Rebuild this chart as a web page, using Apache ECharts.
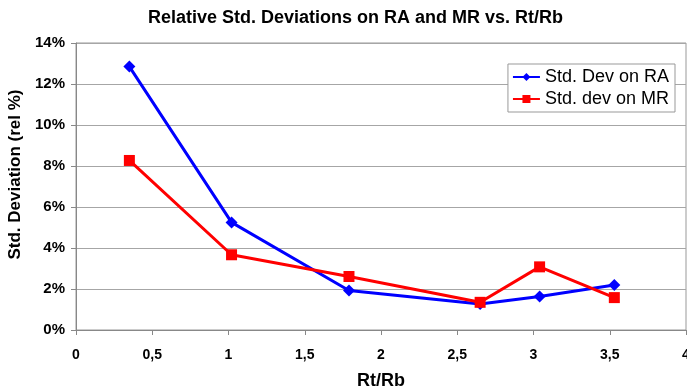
<!DOCTYPE html>
<html>
<head>
    <meta charset="utf-8">
    <title>ECharts</title>
    <script src="https://cdn.jsdelivr.net/npm/echarts@6/dist/echarts.min.js"></script>
</head>
<body style="margin:0">
    <div id="main" style="width: 687px;height:387px;"></div>
    <script type="text/javascript">
        var myChart = echarts.init(document.getElementById('main'));

        // Rt/Rb values (x) and relative std. deviations in %
        var rtRb = [0.35, 1.02, 1.79, 2.65, 3.04, 3.53];
        var devRA = [12.85, 5.25, 1.93, 1.27, 1.63, 2.2];
        var devMR = [8.27, 3.67, 2.61, 1.35, 3.08, 1.58];

        function pairs(ys) {
            return rtRb.map(function (x, i) { return [x, ys[i]]; });
        }

        var font = 'Liberation Sans, Arial, sans-serif';

        option = {
            backgroundColor: '#fff',
            animation: false,
            title: {
                text: 'Relative Std. Deviations on RA and MR vs. Rt/Rb',
                left: 143,
                top: 4,
                textStyle: { fontFamily: font, fontSize: 18, fontWeight: 'bold', color: '#000' }
            },
            legend: {
                orient: 'vertical',
                right: 12,
                top: 64,
                padding: [4, 6, 4, 4],
                itemGap: 4,
                itemWidth: 27,
                itemHeight: 10,
                backgroundColor: '#fff',
                borderColor: '#999',
                borderWidth: 1,
                borderRadius: 0,
                textStyle: { fontFamily: font, fontSize: 18, color: '#000' },
                data: ['Std. Dev on RA', 'Std. dev on MR']
            },
            grid: {
                left: 76,
                right: 1,
                top: 43,
                bottom: 57,
                outerBoundsMode: 'none',
                show: true,
                borderColor: '#999',
                borderWidth: 1
            },
            xAxis: {
                type: 'value',
                min: 0,
                max: 4,
                interval: 0.5,
                name: 'Rt/Rb',
                nameLocation: 'middle',
                nameGap: 42,
                nameTextStyle: { fontFamily: font, fontSize: 18, fontWeight: 'bold', color: '#000' },
                axisLine: { lineStyle: { color: '#888' } },
                axisTick: { show: true, length: 5, lineStyle: { color: '#888' } },
                axisLabel: {
                    fontFamily: font, fontSize: 14, fontWeight: 'bold', color: '#000', margin: 18,
                    formatter: function (v) { return String(v).replace('.', ','); }
                },
                splitLine: { show: false }
            },
            yAxis: {
                type: 'value',
                min: 0,
                max: 14,
                interval: 2,
                name: 'Std. Deviation (rel %)',
                nameLocation: 'middle',
                nameGap: 46,
                nameTextStyle: { fontFamily: font, fontSize: 17, fontWeight: 'bold', color: '#000', padding: [0, 0, 0, 24] },
                axisLine: { show: true, lineStyle: { color: '#888' } },
                axisTick: { show: true, length: 5, lineStyle: { color: '#888' } },
                axisLabel: { fontFamily: font, fontSize: 15, fontWeight: 'bold', color: '#000', margin: 11, formatter: '{value}%' },
                splitLine: { show: true, lineStyle: { color: '#a6a6a6' } }
            },
            series: [{
                name: 'Std. Dev on RA',
                type: 'line',
                symbol: 'diamond',
                symbolSize: 12,
                lineStyle: { color: '#0000ff', width: 3 },
                itemStyle: { color: '#0000ff' },
                data: pairs(devRA)
            }, {
                name: 'Std. dev on MR',
                type: 'line',
                symbol: 'rect',
                symbolSize: 11,
                lineStyle: { color: '#ff0000', width: 3 },
                itemStyle: { color: '#ff0000' },
                data: pairs(devMR)
            }]
        };

        myChart.setOption(option);
    </script>
</body>
</html>
